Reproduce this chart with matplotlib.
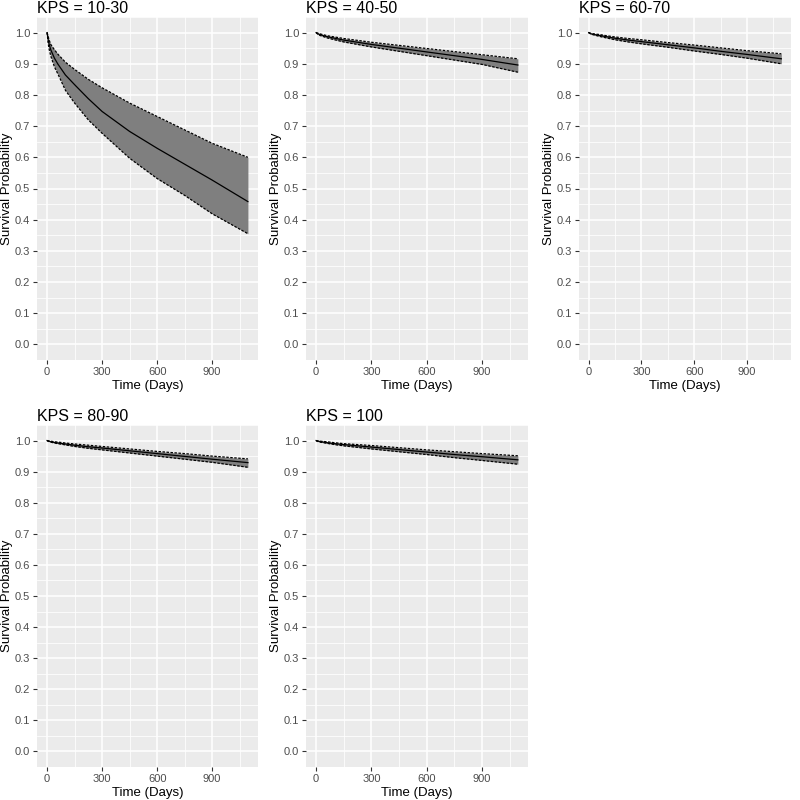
import numpy as np
import matplotlib.pyplot as plt
from matplotlib.ticker import MultipleLocator

plt.rcParams['font.family'] = ['Liberation Sans', 'DejaVu Sans']

# Time grid (days)
days = [0, 5, 10, 20, 40, 60, 100, 150, 225, 300, 450, 600, 750, 900, 1095]

titles = ['KPS = 10-30', 'KPS = 40-50', 'KPS = 60-70', 'KPS = 80-90', 'KPS = 100']

surv = [
    [1.0, 0.980, 0.965, 0.945, 0.918, 0.898, 0.864, 0.833, 0.788, 0.747, 0.683, 0.629, 0.578, 0.527, 0.458],
    [1.0, 0.998, 0.996, 0.994, 0.990, 0.987, 0.982, 0.976, 0.969, 0.962, 0.950, 0.938, 0.926, 0.914, 0.896],
    [1.0, 0.999, 0.997, 0.995, 0.993, 0.991, 0.987, 0.982, 0.976, 0.971, 0.961, 0.951, 0.940, 0.930, 0.916],
    [1.0, 0.999, 0.998, 0.996, 0.994, 0.992, 0.989, 0.985, 0.980, 0.976, 0.967, 0.958, 0.949, 0.940, 0.929],
    [1.0, 0.999, 0.998, 0.997, 0.995, 0.993, 0.990, 0.987, 0.983, 0.979, 0.971, 0.963, 0.955, 0.948, 0.938],
]
upper = [
    [1.0, 0.990, 0.978, 0.962, 0.945, 0.930, 0.905, 0.882, 0.850, 0.823, 0.774, 0.731, 0.688, 0.645, 0.600],
    [1.0, 0.999, 0.998, 0.996, 0.993, 0.990, 0.986, 0.981, 0.975, 0.969, 0.959, 0.949, 0.939, 0.929, 0.916],
    [1.0, 0.999, 0.998, 0.997, 0.995, 0.994, 0.990, 0.986, 0.981, 0.977, 0.968, 0.960, 0.951, 0.942, 0.932],
    [1.0, 0.999, 0.999, 0.998, 0.996, 0.995, 0.992, 0.989, 0.985, 0.981, 0.973, 0.965, 0.958, 0.950, 0.941],
    [1.0, 0.999, 0.999, 0.998, 0.997, 0.996, 0.993, 0.990, 0.987, 0.984, 0.977, 0.970, 0.964, 0.958, 0.951],
]
lower = [
    [1.0, 0.970, 0.950, 0.925, 0.890, 0.866, 0.815, 0.774, 0.720, 0.677, 0.597, 0.532, 0.478, 0.419, 0.355],
    [1.0, 0.997, 0.994, 0.991, 0.987, 0.983, 0.977, 0.970, 0.962, 0.954, 0.940, 0.926, 0.912, 0.898, 0.873],
    [1.0, 0.998, 0.996, 0.994, 0.991, 0.988, 0.983, 0.977, 0.970, 0.964, 0.953, 0.941, 0.930, 0.918, 0.900],
    [1.0, 0.998, 0.997, 0.995, 0.992, 0.990, 0.986, 0.981, 0.975, 0.970, 0.960, 0.950, 0.940, 0.930, 0.914],
    [1.0, 0.998, 0.997, 0.995, 0.993, 0.991, 0.987, 0.983, 0.978, 0.973, 0.964, 0.955, 0.945, 0.936, 0.924],
]

# panel boxes in pixels: left, top, right, bottom
boxes = [(37, 17, 258, 360), (306, 17, 528, 360), (579, 17, 791, 360),
         (37, 425, 258, 767), (306, 425, 528, 767)]

W = H = 800
fig = plt.figure(figsize=(8, 8), dpi=100)

for i, (l, t, r, b) in enumerate(boxes):
    ax = fig.add_axes([l / W, 1 - b / H, (r - l) / W, (b - t) / H])
    ax.set_facecolor('#EBEBEB')
    for s in ax.spines.values():
        s.set_visible(False)

    x = np.array(days)
    ax.fill_between(x, lower[i], upper[i], color='#7F7F7F', lw=0, zorder=2)
    ax.plot(x, upper[i], color='black', ls=(0, (2, 1.2)), lw=0.9, zorder=3)
    ax.plot(x, lower[i], color='black', ls=(0, (2, 1.2)), lw=0.9, zorder=3)
    ax.plot(x, surv[i], color='black', lw=0.9, zorder=4)

    ax.set_xlim(-55, 1150)
    ax.set_ylim(-0.05, 1.05)
    ax.xaxis.set_minor_locator(MultipleLocator(150))
    ax.yaxis.set_minor_locator(MultipleLocator(0.05))
    ax.set_xticks([0, 300, 600, 900])
    ax.set_yticks(np.round(np.arange(0, 1.01, 0.1), 1))
    ax.set_yticklabels([f'{v:.1f}' for v in np.arange(0, 1.01, 0.1)])
    ax.grid(which='major', color='white', lw=1.1, zorder=0)
    ax.grid(which='minor', color='white', lw=0.55, zorder=0)
    ax.set_axisbelow(True)
    ax.tick_params(which='major', length=3, width=0.8, color='#333333',
                   labelcolor='#4D4D4D', labelsize=8, pad=2)
    ax.tick_params(which='minor', length=0)

    ax.set_xlabel('Time (Days)', fontsize=9.5, labelpad=2)
    ax.set_ylabel('Survival Probability', fontsize=9.5, labelpad=1)
    ax.set_title(titles[i], loc='left', fontsize=11.5, pad=3)

fig.savefig('out.png', dpi=100, facecolor='white')
